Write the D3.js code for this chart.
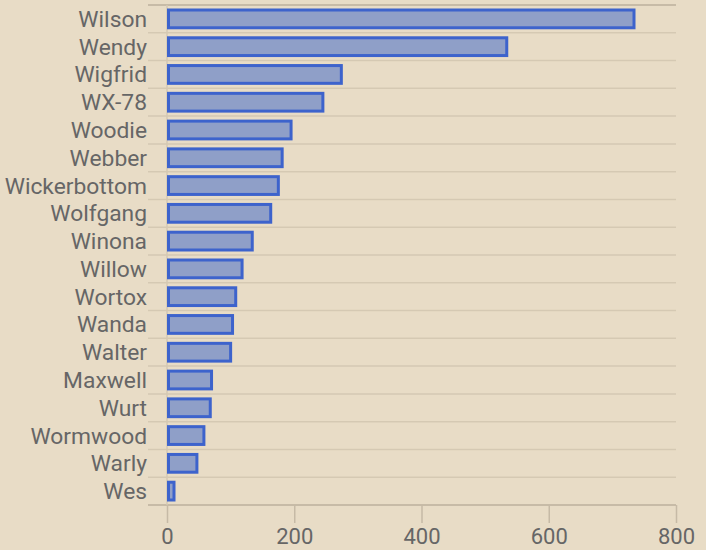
<!DOCTYPE html>
<html>
<head>
<meta charset="utf-8">
<script src="https://cdn.jsdelivr.net/npm/d3@7"></script>
<style>
  html, body { margin: 0; padding: 0; background: #e8dcc6; }
  text { font-family: Roboto, "Noto Sans", sans-serif; }
</style>
</head>
<body>
<div id="canvas"></div>
<script>
const names = ["Wilson", "Wendy", "Wigfrid", "WX-78", "Woodie", "Webber", "Wickerbottom",
  "Wolfgang", "Winona", "Willow", "Wortox", "Wanda", "Walter", "Maxwell", "Wurt",
  "Wormwood", "Warly", "Wes"];
const counts = [734, 534, 274, 245, 195, 181, 175, 163, 134, 118, 108, 103, 100, 70, 68, 58, 47, 11];
const xTicks = [0, 200, 400, 600, 800];

const width = 706;
const height = 550;
const margin = { top: 5, left: 167, bottom: 45, right: 30 };
const iwidth = width - margin.left - margin.right;
const iheight = height - margin.top - margin.bottom;

const svg = d3.select("#canvas").append("svg")
  .attr("width", width)
  .attr("height", height);

svg.append("rect").attr("width", width).attr("height", height).attr("fill", "#e8dcc6");

const g = svg.append("g").attr("transform", `translate(${margin.left},${margin.top})`);

const x = d3.scaleLinear().domain([0, 800]).range([0, iwidth]);
const y = d3.scaleBand().domain(names).range([0, iheight]).paddingInner(0.36).paddingOuter(0.18);

// horizontal grid lines at band boundaries
const bounds = d3.range(names.length + 1);
g.selectAll(".grid").data(bounds).enter().append("line")
  .attr("x1", -19).attr("x2", iwidth)
  .attr("y1", d => d * iheight / names.length)
  .attr("y2", d => d * iheight / names.length)
  .attr("stroke", d => (d === 0 || d === names.length) ? "#bcb09c" : "#d5c9b3")
  .attr("stroke-width", 1.5);

// faint zero line
g.append("line")
  .attr("x1", x(0)).attr("x2", x(0))
  .attr("y1", 0).attr("y2", iheight)
  .attr("stroke", "#d5c9b3").attr("stroke-width", 1.5);

// bottom axis
const xa = g.append("g")
  .attr("transform", `translate(0,${iheight})`)
  .call(d3.axisBottom(x).tickValues(xTicks).tickSize(18).tickPadding(5));
xa.select(".domain").remove();
xa.selectAll("line").attr("stroke", "#c6baa6").attr("stroke-width", 1.5);
xa.selectAll("text").attr("fill", "#666").attr("font-size", 22)
  .attr("font-family", "Roboto, sans-serif");

// category labels
g.selectAll(".lbl").data(names).enter().append("text")
  .attr("x", -20)
  .attr("y", d => y(d) + y.bandwidth() / 2)
  .attr("dy", "0.35em")
  .attr("text-anchor", "end")
  .attr("fill", "#666")
  .attr("font-size", 22.8)
  .text(d => d);

// bars
g.selectAll(".bar").data(names).enter().append("rect")
  .attr("class", "bar")
  .attr("x", x(0) + 1.5)
  .attr("y", d => y(d))
  .attr("width", (d, i) => x(counts[i]) - x(0) - 1.5)
  .attr("height", y.bandwidth())
  .attr("fill", "#8f9fc8")
  .attr("stroke", "#3d63cc")
  .attr("stroke-width", 3);
</script>
</body>
</html>
